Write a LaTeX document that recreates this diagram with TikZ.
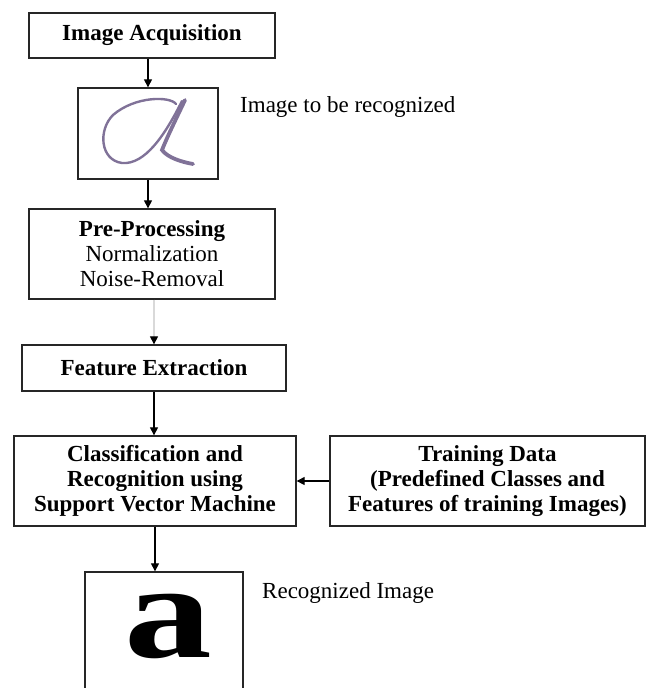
\documentclass[tikz,border=0pt]{standalone}
\usepackage{fontspec}
\usepackage{graphicx}
\setmainfont{Liberation Serif}
\usetikzlibrary{arrows.meta}

\begin{document}
\begin{tikzpicture}[x=1pt,y=-1pt,
  box/.style={draw=black!85,line width=1.3pt,align=center,inner sep=0pt,
    font=\fontsize{23}{25}\selectfont},
  lbl/.style={anchor=west,inner sep=0pt,font=\fontsize{23}{25}\selectfont},
  arr/.style={line width=1.1pt,-{Triangle[width=8pt,length=8pt,black]}},
  ink/.style={draw={rgb,255:red,128;green,114;blue,152},line cap=round}]

\useasboundingbox (0,0) rectangle (650,688);
\clip (0,0) rectangle (650,688);

% boxes of the flow
\node[box,minimum width=246,minimum height=45] (acq) at (152,35.5)
  {\textbf{Image Acquisition}};
\node[box,minimum width=140,minimum height=91] (img) at (148,133.5) {};
\node[box,minimum width=246,minimum height=90] (pre) at (152,254)
  {\textbf{Pre-Processing}\\Normalization\\Noise-Removal};
\node[box,minimum width=264,minimum height=46] (feat) at (154,368)
  {\textbf{Feature Extraction}};
\node[box,minimum width=282,minimum height=90] (cls) at (155,481)
  {\textbf{Classification and}\\\textbf{Recognition using}\\\textbf{Support Vector Machine}};
\node[box,minimum width=315,minimum height=90] (train) at (487.5,481)
  {\textbf{Training Data}\\\textbf{(Predefined Classes and}\\\textbf{Features of training Images)}};
\node[box,minimum width=158,minimum height=140] (rec) at (164,642) {};

% the two letters
\draw[ink,line width=2.4pt] (176,104) .. controls (170,96) and (135,96) .. (113,115)
  .. controls (98,130) and (100,160) .. (122,163)
  .. controls (145,165) and (165,135) .. (182,101);
\draw[ink,line width=3.8pt] (185,100) .. controls (178,115) and (168,135) .. (162,150)
  .. controls (168,158) and (182,162) .. (193,164);
\node[inner sep=0pt] (recA) at (168,626)
  {\scalebox{1.3}[1]{\fontsize{135}{135}\selectfont\bfseries a}};

\node[lbl] (imgLbl) at (240,107) {Image to be recognized};
\node[lbl] (recLbl) at (262,593) {Recognized Image};

% connectors
\draw[arr] (img.north |- acq.south) -- (img.north);
\draw[arr] (img.south) -- (img.south |- pre.north);
\draw[arr,draw=black!15] (feat.north |- pre.south) -- (feat.north);
\draw[arr] (feat.south) -- (feat.south |- cls.north);
\draw[arr] (train.west) -- (cls.east);
\draw[arr] (cls.south) -- (cls.south |- rec.north);

\end{tikzpicture}
\end{document}
